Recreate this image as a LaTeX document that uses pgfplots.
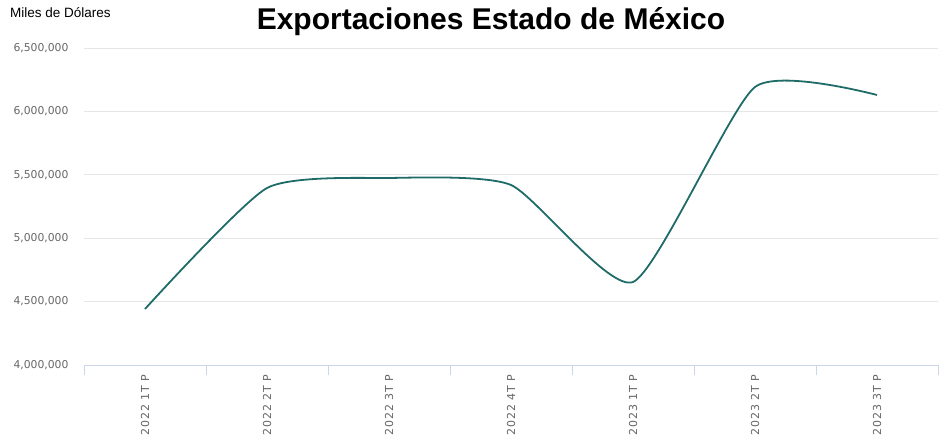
\documentclass[border=0pt]{standalone}
\usepackage{fontspec}
\setmainfont{Liberation Sans}
\newfontfamily\dejavu{DejaVu Sans}
\newfontfamily\dejavuw[LetterSpace=9]{DejaVu Sans}
\usepackage{pgfplots}
\pgfplotsset{compat=1.18}
\definecolor{linea}{RGB}{30,107,104}
\definecolor{ejex}{RGB}{204,214,235}
\definecolor{rejilla}{RGB}{230,230,230}
\definecolor{texto}{RGB}{102,102,102}
\begin{document}
\begin{tikzpicture}[x=1pt,y=1pt]
\begin{axis}[
	at={(84pt,82pt)}, anchor=south west,
	width=854pt, height=317pt,
	scale only axis,
	xmin=-0.5, xmax=6.5,
	ymin=4000000, ymax=6500000,
	ytick={4000000,4500000,...,6500000},
	xtick={0,...,6},
	xticklabels={2022 1T P,2022 2T P,2022 3T P,2022 4T P,2023 1T P,2023 2T P,2023 3T P},
	minor xtick={-0.5,0.5,...,6.5},
	major tick length=0pt,
	minor tick length=10pt,
	tick align=outside,
	axis x line*=bottom,
	axis y line*=left,
	x axis line style={draw=ejex, line width=1pt, -},
	y axis line style={draw=none},
	minor x tick style={draw=ejex, line width=1pt},
	ytick style={draw=none},
	ymajorgrids=true,
	grid style={draw=rejilla, line width=0.8pt},
	scaled y ticks=false,
	/pgf/number format/.cd, fixed, 1000 sep={,}, assume math mode=true,
	/pgfplots/.cd,
	yticklabel style={font=\dejavu\fontsize{10.8}{12}\selectfont, text=texto, anchor=east, xshift=-12pt},
	xticklabel style={font=\dejavuw\fontsize{11}{12}\selectfont, text=texto, rotate=90, anchor=east, xshift=-6pt},
	clip=false,
]
\addplot[color=linea, line width=1.8pt, smooth, tension=0.35]
coordinates{
	(0, 4441600)
	(1, 5395900)
	(2, 5474800)
	(3, 5419600)
	(4, 4654600)
	(5, 6192400)
	(6, 6129300)
};
\end{axis}
\node[anchor=base] at (491pt,417pt) {\fontsize{30}{34}\selectfont\bfseries Exportaciones Estado de México};
\node[anchor=west, inner sep=0pt] at (10pt,434pt) {\fontsize{13.5}{15}\selectfont Miles de Dólares};
\pgfresetboundingbox
\useasboundingbox (0,0) rectangle (952pt,447pt);
\end{tikzpicture}
\end{document}
